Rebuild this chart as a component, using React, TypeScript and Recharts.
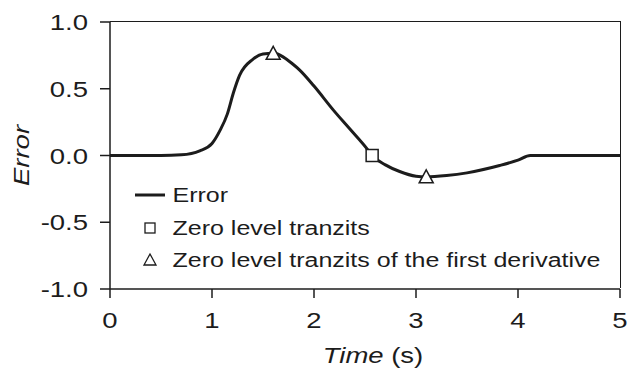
import React from 'react';
import {
  ComposedChart, Line, Scatter, XAxis, YAxis, Label,
} from 'recharts';

// Error curve (time in s)
const times = [0, 0.5, 0.7, 0.88, 1.0, 1.08, 1.15, 1.21, 1.27, 1.4, 1.5, 1.6, 1.8, 1.86, 2.0, 2.19, 2.35, 2.52, 2.57, 2.7, 2.84, 3.0, 3.1, 3.3, 3.5, 3.82, 4.0, 4.12, 4.5, 5.0];
const errors = [0, 0, 0.005, 0.035, 0.09, 0.19, 0.31, 0.47, 0.6, 0.72, 0.76, 0.765, 0.68, 0.64, 0.52, 0.34, 0.2, 0.05, 0, -0.07, -0.12, -0.155, -0.16, -0.15, -0.13, -0.075, -0.035, 0, 0, 0];

// marker points
const zeroTimes = [2.57];
const zeroValues = [0];
const derivTimes = [1.6, 3.1];
const derivValues = [0.765, -0.16];

const xTicks = [0, 1, 2, 3, 4, 5];
const yTicks = [-1, -0.5, 0, 0.5, 1];
const legendLabels = ['Error', 'Zero level tranzits', 'Zero level tranzits of the first derivative'];

const curve = times.map((t, i) => ({ t, v: errors[i] }));
const zeroPts = zeroTimes.map((t, i) => ({ t, v: zeroValues[i] }));
const derivPts = derivTimes.map((t, i) => ({ t, v: derivValues[i] }));

const INK = '#1c1c1c';
const FONT = '"Liberation Sans", Arial, sans-serif';
const STRETCH = 1.25; // the reference font is drawn wider than Arial

// chart box (page pixels)
const W = 627;
const H = 378;
const M = { top: 22, right: 7, left: 0, bottom: 19 };
const Y_AXIS_W = 110;
const X_AXIS_H = 70;

const Square = (props: any) => {
  const { cx, cy } = props;
  return <rect x={cx - 6} y={cy - 6} width={12} height={12} fill="#fff" stroke={INK} strokeWidth={1.5} />;
};

const Triangle = (props: any) => {
  const { cx, cy } = props;
  return <path d={`M${cx},${cy - 7} L${cx + 7},${cy + 6} L${cx - 7},${cy + 6} Z`} fill="#fff" stroke={INK} strokeWidth={1.5} />;
};

const XTick = (props: any) => {
  const { x, y, payload } = props;
  return (
    <text transform={`translate(${x},${y + 28}) scale(${STRETCH},1)`} textAnchor="middle" fontFamily={FONT} fontSize={22} fill={INK}>
      {payload.value}
    </text>
  );
};

const YTick = (props: any) => {
  const { x, y, payload } = props;
  return (
    <text transform={`translate(${x - 10},${y + 8}) scale(${STRETCH},1)`} textAnchor="end" fontFamily={FONT} fontSize={22} fill={INK}>
      {payload.value.toFixed(1)}
    </text>
  );
};

const XTitle = (props: any) => {
  const { viewBox } = props;
  const cx = viewBox.x + viewBox.width / 2 + 8;
  return (
    <text transform={`translate(${cx},${viewBox.y + 74}) scale(${STRETCH},1)`} textAnchor="middle" fontFamily={FONT} fontSize={22} fill={INK}>
      <tspan fontStyle="italic">Time</tspan>
      <tspan> (s)</tspan>
    </text>
  );
};

const YTitle = (props: any) => {
  const { viewBox } = props;
  const cy = viewBox.y + viewBox.height / 2;
  return (
    <text transform={`translate(29,${cy}) rotate(-90) scale(${STRETCH},1)`} textAnchor="middle" fontFamily={FONT} fontSize={22} fontStyle="italic" fill={INK}>
      Error
    </text>
  );
};

const LegendBox = () => (
  <div
    style={{
      position: 'absolute', left: 135, top: 179, fontFamily: FONT, fontSize: 20, color: INK,
      lineHeight: '32.5px', transform: `scaleX(${STRETCH})`, transformOrigin: 'left top',
    }}
  >
    {legendLabels.map((label, i) => (
      <div key={label} style={{ display: 'flex', alignItems: 'center', whiteSpace: 'nowrap' }}>
        <svg width={34} height={20} style={{ transform: `scaleX(${1 / STRETCH})`, transformOrigin: 'left center', marginRight: -4 }}>
          {i === 0 && <line x1={0} y1={10} x2={30} y2={10} stroke={INK} strokeWidth={3} />}
          {i === 1 && <rect x={10} y={5} width={10} height={10} fill="#fff" stroke={INK} strokeWidth={1.3} />}
          {i === 2 && <path d="M15,4 L21,15 L9,15 Z" fill="#fff" stroke={INK} strokeWidth={1.3} />}
        </svg>
        <span>{label}</span>
      </div>
    ))}
  </div>
);

// top and right sides of the plot frame, laid over the plot area
const Frame = () => {
  const left = M.left + Y_AXIS_W;
  const top = M.top;
  const width = W - M.right - left;
  const height = H - M.bottom - X_AXIS_H - top;
  return (
    <div
      style={{
        position: 'absolute', left, top: top - 0.75, width: width + 0.75, height,
        borderTop: `1.5px solid ${INK}`, borderRight: `1.5px solid ${INK}`,
        boxSizing: 'border-box', pointerEvents: 'none',
      }}
    />
  );
};

export default function App() {
  return (
    <div style={{ position: 'absolute', left: 0, top: 0, width: W, height: H, overflow: 'hidden', background: '#fff' }}>
      <ComposedChart width={W} height={H} data={curve} margin={M}>
        <XAxis
          dataKey="t"
          type="number"
          domain={[0, 5]}
          ticks={xTicks}
          tickSize={9}
          height={X_AXIS_H}
          stroke={INK}
          strokeWidth={1.5}
          tick={<XTick />}
        >
          <Label content={<XTitle />} />
        </XAxis>
        <YAxis
          type="number"
          domain={[-1, 1]}
          ticks={yTicks}
          tickSize={10}
          width={Y_AXIS_W}
          stroke={INK}
          strokeWidth={1.5}
          tick={<YTick />}
        >
          <Label content={<YTitle />} />
        </YAxis>
        <Line
          type="monotone"
          dataKey="v"
          stroke={INK}
          strokeWidth={3}
          dot={false}
          isAnimationActive={false}
        />
        <Scatter data={zeroPts} dataKey="v" shape={<Square />} isAnimationActive={false} />
        <Scatter data={derivPts} dataKey="v" shape={<Triangle />} isAnimationActive={false} />
      </ComposedChart>
      <Frame />
      <LegendBox />
    </div>
  );
}
